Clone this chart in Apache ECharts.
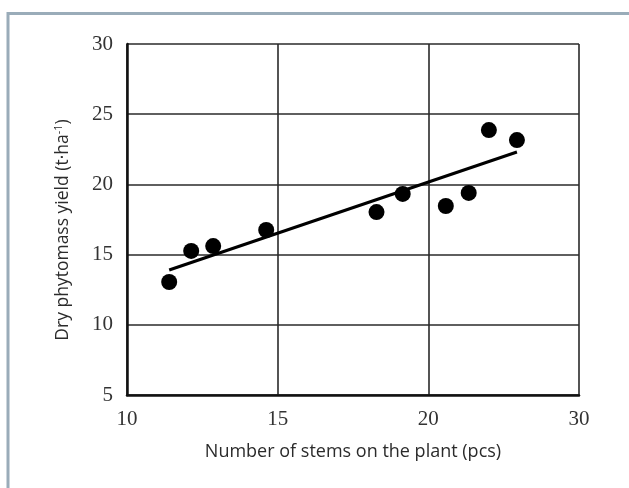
<!DOCTYPE html>
<html>
<head>
<meta charset="utf-8">
<script src="https://cdn.jsdelivr.net/npm/echarts@6/dist/echarts.min.js"></script>
<style>
  html, body { margin: 0; padding: 0; background: #fff; }
  #chart { width: 629px; height: 488px; }
</style>
</head>
<body>
<div id="chart"></div>
<script>
// Stems per plant (pcs) and dry phytomass yield (t·ha-1)
var stems = [11.40, 12.13, 12.86, 14.62, 18.28, 19.15, 20.58, 21.34, 22.01, 22.94];
var yieldValues = [13.05, 15.26, 15.61, 16.75, 18.03, 19.32, 18.46, 19.39, 23.87, 23.16];

// Fitted trend line end points
var trendX = [11.40, 22.94];
var trendY = [13.90, 22.31];

// Printed tick labels along the x axis
var xTickLabels = ['10', '15', '20', '30'];
var yTicks = [5, 10, 15, 20, 25, 30];

var xMin = 10, xStep = 5;

var chart = echarts.init(document.getElementById('chart'), null, { renderer: 'canvas' });

var points = stems.map(function (x, i) { return [x, yieldValues[i]]; });
var trend = trendX.map(function (x, i) { return [x, trendY[i]]; });

chart.setOption({
  animation: false,
  backgroundColor: '#ffffff',
  grid: { left: 127, right: 50, top: 44, bottom: 93, containLabel: false },
  xAxis: {
    type: 'value',
    min: xMin,
    max: xMin + xStep * (xTickLabels.length - 1),
    interval: xStep,
    name: 'Number of stems on the plant (pcs)',
    nameLocation: 'middle',
    nameGap: 48,
    nameTextStyle: { fontFamily: 'Open Sans', fontSize: 18, color: '#2b2b2b' },
    axisLine: { show: true, lineStyle: { color: '#111', width: 2.5 } },
    axisTick: { show: false },
    axisLabel: {
      margin: 14,
      fontFamily: 'Liberation Serif',
      fontSize: 21,
      color: '#333',
      formatter: function (v) {
        var idx = Math.round((v - xMin) / xStep);
        return xTickLabels[idx] || '';
      }
    },
    splitLine: { show: true, lineStyle: { color: '#2a2a2a', width: 1.6 } }
  },
  yAxis: {
    type: 'value',
    min: yTicks[0],
    max: yTicks[yTicks.length - 1],
    interval: 5,
    axisLine: { show: true, lineStyle: { color: '#111', width: 2.5 } },
    axisTick: { show: false },
    axisLabel: {
      margin: 14,
      fontFamily: 'Liberation Serif',
      fontSize: 21,
      color: '#333'
    },
    splitLine: { show: true, lineStyle: { color: '#2a2a2a', width: 1.6 } }
  },
  graphic: [
    {
      type: 'polyline',
      shape: { points: [[8, 488], [8, 13.5], [629, 13.5]] },
      style: { stroke: '#9aacb9', lineWidth: 3, fill: null },
      silent: true
    },
    {
      type: 'text',
      x: 63, y: 230,
      rotation: Math.PI / 2,
      style: {
        text: 'Dry phytomass yield (t·ha{sup|-1})',
        fontFamily: 'Open Sans',
        fontSize: 17.5,
        fill: '#2b2b2b',
        align: 'center',
        verticalAlign: 'middle',
        rich: {
          sup: { fontFamily: 'Open Sans', fontSize: 11, fill: '#2b2b2b', verticalAlign: 'top', padding: [0, 0, 8, 0] }
        }
      },
      silent: true
    }
  ],
  series: [
    {
      type: 'line',
      data: trend,
      showSymbol: false,
      symbol: 'none',
      lineStyle: { color: '#000', width: 3 },
      z: 3
    },
    {
      type: 'scatter',
      data: points,
      symbol: 'circle',
      symbolSize: 16,
      itemStyle: { color: '#000', opacity: 1 },
      z: 4
    }
  ]
});
</script>
</body>
</html>
